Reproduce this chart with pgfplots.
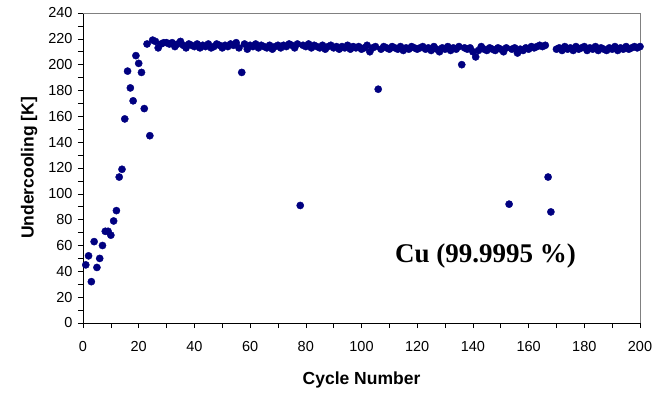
\documentclass[border=0pt]{standalone}
\usepackage{fontspec}
\setmainfont{Liberation Sans}
\newfontfamily\serifb{Liberation Serif}
\usepackage{pgfplots}
\pgfplotsset{compat=1.18}
\definecolor{navy}{RGB}{0,0,128}
\definecolor{boxgray}{RGB}{128,128,128}
\begin{document}
\begin{tikzpicture}
\begin{axis}[
  at={(0,0)}, anchor=south west,
  scale only axis,
  width=557bp, height=310bp,
  xmin=0, xmax=200, ymin=0, ymax=240,
  xtick distance=20, ytick distance=20,
  minor x tick num=1, minor y tick num=1,
  axis x line*=bottom, axis y line*=left,
  axis line style={black, line width=0.8pt},
  tick align=outside,
  major tick length=5bp, minor tick length=5bp,
  every tick/.style={black, line width=0.6pt},
  tick label style={font=\fontsize{14.5bp}{16bp}\selectfont},
  /pgf/number format/assume math mode=true,
  xticklabel style={yshift=-10bp},
  yticklabel style={xshift=-2bp},
  xlabel={\bfseries Cycle Number},
  ylabel={\bfseries Undercooling [K]},
  label style={font=\fontsize{17.5bp}{20bp}\selectfont},
  xlabel style={yshift=-13bp},
  ylabel style={yshift=4bp},
  clip=false,
]
\draw[boxgray, line width=0.9pt] (rel axis cs:0,1) -- (rel axis cs:1,1) -- (rel axis cs:1,0);
\addplot[only marks, mark=*, mark size=3.6bp, navy, mark options={fill=navy, draw=navy}] coordinates {
(1,45)(2,52)(3,32)(4,63)(5,43)(6,50)(7,60)(8,71)(9,71)(10,68)
(11,79)(12,87)(13,113)(14,119)(15,158)(16,195)(17,182)(18,172)(19,207)(20,201)
(21,194)(22,166)(23,216)(24,145)(25,219)(26,218)(27,213)(28,216)(29,217)(30,217)
(31,216)(32,217)(33,214)(34,216)(35,218)(36,215)(37,213)(38,216)(39,215)(40,214)
(41,216)(42,213)(43,215)(44,214)(45,216)(46,213)(47,214)(48,216)(49,215)(50,213)
(51,215)(52,214)(53,216)(54,215)(55,217)(56,213)(57,194)(58,216)(59,212)(60,215)
(61,214)(62,216)(63,213)(64,215)(65,214)(66,213)(67,215)(68,212)(69,214)(70,215)
(71,213)(72,215)(73,214)(74,216)(75,215)(76,213)(77,216)(78,91)(79,215)(80,214)
(81,216)(82,213)(83,215)(84,214)(85,213)(86,215)(87,212)(88,214)(89,215)(90,213)
(91,214)(92,212)(93,214)(94,213)(95,215)(96,212)(97,214)(98,213)(99,214)(100,212)
(101,213)(102,215)(103,210)(104,213)(105,214)(106,181)(107,212)(108,214)(109,213)(110,212)
(111,214)(112,213)(113,212)(114,214)(115,211)(116,213)(117,212)(118,214)(119,213)(120,212)
(121,213)(122,214)(123,212)(124,213)(125,211)(126,214)(127,212)(128,210)(129,213)(130,212)
(131,214)(132,211)(133,213)(134,212)(135,214)(136,200)(137,213)(138,212)(139,213)(140,210)
(141,206)(142,211)(143,214)(144,212)(145,211)(146,213)(147,212)(148,211)(149,213)(150,212)
(151,210)(152,213)(153,92)(154,212)(155,213)(156,209)(157,212)(158,211)(159,213)(160,212)
(161,214)(162,213)(163,214)(164,215)(165,214)(166,215)(167,113)(168,86)
(170,212)(171,213)(172,211)(173,214)(174,212)(175,213)(176,211)(177,214)(178,212)(179,213)(180,214)
(181,211)(182,213)(183,212)(184,214)(185,211)(186,213)(187,212)(188,211)(189,213)(190,212)
(191,214)(192,211)(193,213)(194,212)(195,214)(196,212)(197,213)(198,214)(199,213)(200,214)
};
\node[font=\serifb\bfseries\fontsize{27bp}{29bp}\selectfont, anchor=base] at (axis cs:144.5,46.5) {Cu (99.9995 \%)};
\end{axis}
\pgfresetboundingbox
\path (-83bp,-71bp) rectangle (586bp,323bp);
\end{tikzpicture}
\end{document}
